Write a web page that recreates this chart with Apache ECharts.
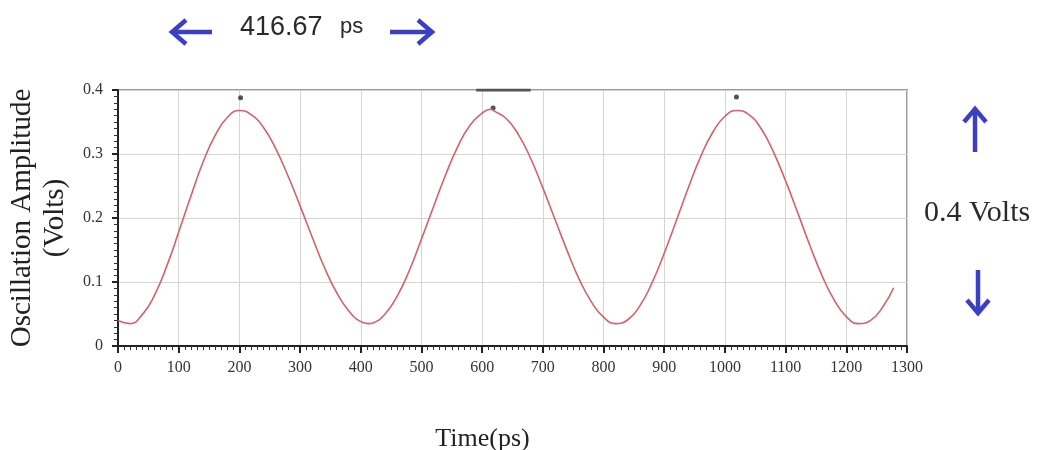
<!DOCTYPE html>
<html>
<head>
<meta charset="utf-8">
<script src="https://cdn.jsdelivr.net/npm/echarts@6/dist/echarts.min.js"></script>
<style>html,body{margin:0;padding:0;background:#fff;}#c{width:1037px;height:450px;}</style>
</head>
<body>
<div id="c"></div>
<script>
// Time (ps) samples
var timePs = [0,20,40,60,80,100,120,140,160,180,200,220,240,260,280,300,320,340,360,380,400,413,420,440,460,480,500,520,540,560,580,600,614,620,640,660,680,700,720,740,760,780,800,820,840,860,880,900,920,940,960,980,1000,1020,1040,1060,1080,1100,1120,1140,1160,1180,1200,1220,1240,1260,1278];
// Oscillation amplitude (V)
var amplitude = [0.040,0.035,0.049,0.079,0.124,0.178,0.234,0.287,0.329,0.357,0.368,0.361,0.341,0.308,0.266,0.219,0.170,0.123,0.084,0.055,0.038,0.035,0.036,0.050,0.078,0.118,0.167,0.218,0.268,0.312,0.345,0.364,0.370,0.367,0.355,0.330,0.293,0.247,0.198,0.149,0.104,0.069,0.045,0.035,0.041,0.063,0.099,0.145,0.196,0.248,0.296,0.334,0.359,0.368,0.361,0.339,0.303,0.258,0.208,0.157,0.110,0.072,0.046,0.035,0.040,0.061,0.091];
// Cursor markers near the peaks
var markerTime = [202, 618, 1019];
var markerAmp = [0.388, 0.372, 0.389];
// Cursor bar at the top of the plot
var barTime = [590, 680];
var barAmp = [0.4, 0.4];
// Axis ticks
var xTicks = [0,100,200,300,400,500,600,700,800,900,1000,1100,1200,1300];
var yTicks = [0,0.1,0.2,0.3,0.4];
var periodText = '416.67';
var periodUnit = 'ps';
var voltText = '0.4 Volts';

var chart = echarts.init(document.getElementById('c'));
var blue = '#3a3fc6';
function arrow(tip, tail, a1, a2) {
  return {
    type: 'group',
    children: [
      {type: 'line', shape: {x1: tail[0], y1: tail[1], x2: tip[0], y2: tip[1]}, style: {stroke: blue, lineWidth: 4.5}},
      {type: 'polyline', shape: {points: [a1, tip, a2]}, style: {stroke: blue, lineWidth: 4.5, fill: null}}
    ]
  };
}
var serif = 'Liberation Serif';
chart.setOption({
  animation: false,
  grid: {left: 118, right: 130, top: 90, bottom: 104, outerBoundsMode: 'none', containLabel: false,
    show: true, borderColor: '#9a9a9a', borderWidth: 2, backgroundColor: '#fff'},
  xAxis: {
    type: 'value', min: 0, max: 1300, interval: 100,
    name: 'Time(ps)', nameLocation: 'middle', nameGap: 80,
    nameTextStyle: {fontFamily: serif, fontSize: 26, color: '#222', padding: [0, 60, 0, 0]},
    axisLine: {show: true, onZero: false, lineStyle: {color: '#222', width: 2}},
    axisTick: {show: true, inside: false, length: 7, lineStyle: {color: '#222', width: 2}},
    minorTick: {show: true, splitNumber: 10, length: 4, lineStyle: {color: '#333', width: 1}},
    axisLabel: {fontFamily: serif, fontSize: 16, color: '#333', margin: 14,
      formatter: function (v) { return xTicks.indexOf(v) >= 0 ? String(v) : ''; }},
    splitLine: {show: true, lineStyle: {color: '#d4d4d4', width: 1}}
  },
  yAxis: {
    type: 'value', min: 0, max: 0.4, interval: 0.1,
    name: 'Oscillation Amplitude\n(Volts)', nameLocation: 'middle', nameGap: 46, nameRotate: 90,
    nameMoveOverlap: false,
    nameTextStyle: {fontFamily: serif, fontSize: 29, color: '#222', lineHeight: 33},
    axisLine: {show: true, lineStyle: {color: '#222', width: 2}},
    axisTick: {show: true, inside: false, length: 6, lineStyle: {color: '#222', width: 2}},
    minorTick: {show: true, splitNumber: 10, length: 4, lineStyle: {color: '#333', width: 1}},
    axisLabel: {fontFamily: serif, fontSize: 16, color: '#333', margin: 15,
      formatter: function (v) { var s = String(Math.round(v * 10) / 10); return s; }},
    splitLine: {show: true, lineStyle: {color: '#d4d4d4', width: 1}}
  },
  series: [
    {
      name: 'Oscillation', type: 'line', smooth: true, showSymbol: false,
      data: timePs.map(function (t, i) { return [t, amplitude[i]]; }),
      lineStyle: {color: '#d4616b', width: 1.6}
    },
    {
      name: 'Markers', type: 'scatter', symbol: 'circle', symbolSize: 5,
      data: markerTime.map(function (t, i) { return [t, markerAmp[i]]; }),
      itemStyle: {color: '#1e2a2a'}
    },
    {
      name: 'Cursor', type: 'line', showSymbol: false,
      data: barTime.map(function (t, i) { return [t, barAmp[i]]; }),
      lineStyle: {color: '#555', width: 3}
    }
  ],
  graphic: [
    arrow([172, 32], [212, 32], [186, 20], [186, 44]),
    arrow([432, 32], [390, 32], [418, 20], [418, 44]),
    {type: 'text', left: 240, top: 14, style: {text: periodText, fontFamily: 'Liberation Sans', fontSize: 27, fill: '#2a2a2a'}},
    {type: 'text', left: 340, top: 16, style: {text: periodUnit, fontFamily: 'Liberation Sans', fontSize: 22, fill: '#2a2a2a'}},
    arrow([975, 109], [975, 152], [964, 122], [986, 122]),
    arrow([978, 313], [978, 270], [967, 300], [989, 300]),
    {type: 'text', left: 924, top: 198, style: {text: voltText, fontFamily: serif, fontSize: 30, fill: '#2a2a2a'}}
  ]
});
</script>
</body>
</html>
